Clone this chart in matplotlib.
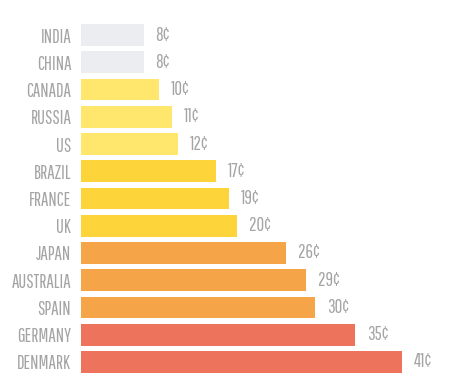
import matplotlib
matplotlib.use("Agg")
import matplotlib.pyplot as plt

countries = ["INDIA", "CHINA", "CANADA", "RUSSIA", "US", "BRAZIL", "FRANCE",
             "UK", "JAPAN", "AUSTRALIA", "SPAIN", "GERMANY", "DENMARK"]
# bar lengths
values = [8.0, 8.0, 10.0, 11.65, 12.35, 17.2, 18.9, 19.9, 26.15, 28.7, 29.85, 34.95, 41.0]
# printed labels
labels = ["8¢", "8¢", "10¢", "11¢", "12¢", "17¢", "19¢", "20¢", "26¢", "29¢", "30¢", "35¢", "41¢"]
colors = ["#ebedf0", "#ebedf0", "#fee76c", "#fee76c", "#fee76c",
          "#fdd43a", "#fdd43a", "#fdd43a", "#f5a448", "#f5a448", "#f5a448",
          "#ee735c", "#ee735c"]

FONT = ["Pathway Gothic One", "DejaVu Sans"]
TXT = "#a4a4a4"

fig = plt.figure(figsize=(4.66, 3.86), dpi=100)
ax = fig.add_axes([81/466, (386-375.6)/386, (466-81)/466, (375.6-21.4)/386])
y = list(range(len(countries)))
ax.barh(y, values, height=0.8, color=colors)
ax.set_ylim(len(countries)-0.5, -0.5)
ax.set_xlim(0, (466-81)/7.837)
for s in ax.spines.values():
    s.set_visible(False)
ax.set_xticks([])
ax.set_yticks(y)
ax.set_yticklabels(countries, family=FONT, fontsize=13.5, color=TXT)
ax.tick_params(axis="y", length=0, pad=7)
for yi, v, lab in zip(y, values, labels):
    ax.annotate(lab, (v, yi), xytext=(8.5, 0), textcoords="offset points",
                va="center", ha="left", family=FONT, fontsize=13.5, color=TXT)
fig.savefig("out.png", dpi=100)
